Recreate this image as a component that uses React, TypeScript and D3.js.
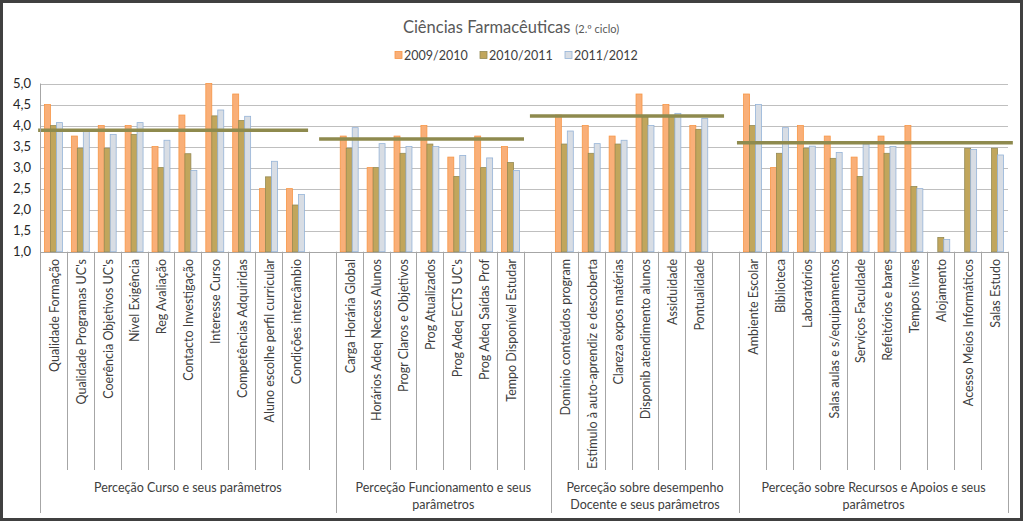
import React from "react";
import * as d3 from "d3";

const W = 1023;
const H = 521;

const seriesNames = ["2009/2010", "2010/2011", "2011/2012"];
const seriesFill = ["#F9AF78", "#C1A65C", "#D8DDE4"];
const seriesStroke = ["#F79646", "#948A54", "#95B3D7"];

const groupLabels = [
  ["Perceção Curso e seus parâmetros"],
  ["Perceção Funcionamento e seus", "parâmetros"],
  ["Perceção sobre desempenho", "Docente e seus parâmetros"],
  ["Perceção sobre Recursos e Apoios e seus", "parâmetros"],
];

const group1Cats = ["Qualidade Formação", "Qualidade Programas UC's", "Coerência Objetivos UC's", "Nível Exigência", "Reg Avaliação", "Contacto Investigação", "Interesse Curso", "Competências Adquiridas", "Aluno escolhe perfil curricular", "Condições intercâmbio"];
const group1S1 = [4.5, 3.75, 4.0, 4.0, 3.5, 4.25, 5.0, 4.75, 2.5, 2.5];
const group1S2 = [4.0, 3.46, 3.46, 3.79, 3.0, 3.33, 4.23, 4.12, 2.78, 2.11];
const group1S3 = [4.07, 3.88, 3.79, 4.07, 3.65, 2.93, 4.37, 4.22, 3.15, 2.36];

const group2Cats = ["Carga Horária Global", "Horários Adeq Necess Alunos", "Progr Claros e Objetivos", "Prog Atualizados", "Prog Adeq ECTS UC's", "Prog Adeq Saídas Prof", "Tempo Disponível Estudar"];
const group2S1 = [3.75, 3.0, 3.75, 4.0, 3.25, 3.75, 3.5];
const group2S2 = [3.46, 3.0, 3.34, 3.56, 2.79, 3.0, 3.12];
const group2S3 = [3.95, 3.57, 3.5, 3.5, 3.29, 3.23, 2.93];

const group3Cats = ["Domínio conteúdos program", "Estímulo à auto-aprendiz e descoberta", "Clareza expos matérias", "Disponib atendimento alunos", "Assiduidade", "Pontualidade"];
const group3S1 = [4.25, 4.0, 3.75, 4.75, 4.5, 4.0];
const group3S2 = [3.56, 3.34, 3.56, 4.21, 4.22, 3.91];
const group3S3 = [3.87, 3.57, 3.65, 4.0, 4.29, 4.17];

const group4Cats = ["Ambiente Escolar", "Biblioteca", "Laboratórios", "Salas aulas e s/equipamentos", "Serviços Faculdade", "Refeitórios e bares", "Tempos livres", "Alojamento", "Acesso Meios Informáticos", "Salas Estudo"];
const group4S1: (number | null)[] = [4.75, 3.0, 4.0, 3.75, 3.25, 3.75, 4.0, null, null, null];
const group4S2 = [4.0, 3.34, 3.46, 3.22, 2.79, 3.34, 2.55, 1.34, 3.46, 3.46];
const group4S3 = [4.5, 3.95, 3.51, 3.36, 3.56, 3.5, 2.5, 1.29, 3.43, 3.3];

// average reference lines per group (value, start/end in slot units)
const avgValues = [3.89, 3.68, 4.23, 3.59];
const avgStart = [-0.07, 10.38, 18.22, 25.92];
const avgEnd = [9.97, 18.0, 25.44, 36.18];

const yTicks = [1.0, 1.5, 2.0, 2.5, 3.0, 3.5, 4.0, 4.5, 5.0];

const groups = [
  { cats: group1Cats, vals: [group1S1, group1S2, group1S3], blank: true },
  { cats: group2Cats, vals: [group2S1, group2S2, group2S3], blank: true },
  { cats: group3Cats, vals: [group3S1, group3S2, group3S3], blank: true },
  { cats: group4Cats, vals: [group4S1, group4S2, group4S3], blank: false },
];

type Slot = { id: string; label: string; vals: (number | null)[]; group: number };

const slots: Slot[] = [];
const groupBounds: [number, number][] = [];
groups.forEach((g, gi) => {
  const start = slots.length;
  g.cats.forEach((c, i) => {
    slots.push({ id: `g${gi}c${i}`, label: c, vals: g.vals.map((s) => s[i] as number | null), group: gi });
  });
  if (g.blank) slots.push({ id: `g${gi}blank`, label: "", vals: [null, null, null], group: gi });
  groupBounds.push([start, slots.length]);
});

const FONT = "Lato, 'Open Sans', sans-serif";

export default function App() {
  const plotLeft = 40;
  const plotRight = 1008;
  const plotTop = 83.5;
  const plotBottom = 251.7;

  const x = d3.scaleBand<string>().domain(slots.map((s) => s.id)).range([plotLeft, plotRight]).paddingInner(0).paddingOuter(0);
  const xs = d3.scaleLinear().domain([0, slots.length]).range([plotLeft, plotRight]);
  const inner = d3.scaleBand<string>().domain(seriesNames).range([0, x.bandwidth()]).paddingInner(0).paddingOuter(0.75);
  const y = d3.scaleLinear().domain([1, 5]).range([plotBottom, plotTop]);

  const tickShortEnd = 470;
  const tickLongEnd = 513;

  return (
    <svg width={W} height={H} style={{ position: "fixed", left: 0, top: 0, background: "#fff" }} fontFamily={FONT}>
      <defs>
        <filter id="sh" x="-5%" y="-200%" width="110%" height="500%">
          <feGaussianBlur stdDeviation="1.2" />
        </filter>
      </defs>
      <rect x={0} y={0} width={W} height={H} fill="#fff" />
      {/* title */}
      <text x={511} y={33} textAnchor="middle" fill="#595959" fontSize={16.5}>
        Ciências Farmacêuticas<tspan fontSize={11} dx={5}>(2.º ciclo)</tspan>
      </text>
      {/* legend */}
      {seriesNames.map((s, i) => {
        const lx = 395 + i * 85;
        return (
          <g key={s}>
            <rect x={lx} y={51.5} width={7} height={7} fill={seriesFill[i]} stroke={seriesStroke[i]} strokeWidth={0.8} />
            <text x={lx + 9} y={59.5} fontSize={12.5} fill="#404040">{s}</text>
          </g>
        );
      })}
      {/* gridlines */}
      {yTicks.map((t) => (
        <g key={t}>
          <line x1={plotLeft} x2={plotRight} y1={Math.round(y(t)) + 0.5} y2={Math.round(y(t)) + 0.5} stroke={t === 1 ? "#A6A6A6" : "#BFBFBF"} strokeWidth={1} />
          <text x={31} y={y(t) + 4.5} textAnchor="end" fontSize={13} fill="#262626">{d3.format(".1f")(t).replace(".", ",")}</text>
        </g>
      ))}
      {/* bars */}
      {slots.map((s) => (
        <g key={s.id}>
          {s.vals.map((v, i) =>
            v == null ? null : (
              <rect
                key={i}
                x={(x(s.id) as number) + (inner(seriesNames[i]) as number)}
                y={y(v)}
                width={inner.bandwidth()}
                height={y(1) - y(v)}
                fill={seriesFill[i]}
                stroke={seriesStroke[i]}
                strokeWidth={0.8}
              />
            )
          )}
        </g>
      ))}
      {/* average lines */}
      {avgValues.map((v, i) => (
        <g key={i}>
          <line x1={xs(avgStart[i])} x2={xs(avgEnd[i])} y1={y(v) + 2.5} y2={y(v) + 2.5} stroke="#B5B08A" strokeWidth={3} opacity={0.6} filter="url(#sh)" />
          <line x1={xs(avgStart[i])} x2={xs(avgEnd[i])} y1={y(v)} y2={y(v)} stroke="#8E8A4E" strokeWidth={3.5} />
        </g>
      ))}
      {/* category axis lines */}
      {d3.range(slots.length + 1).map((k) => {
        const isLong = k === 0 || k === slots.length || groupBounds.some((b) => b[0] === k);
        const xx = Math.round(xs(k)) + 0.5;
        return (
          <line key={k} x1={xx} x2={xx} y1={isLong && k === 0 ? plotTop : plotBottom} y2={isLong ? tickLongEnd : tickShortEnd} stroke="#A6A6A6" strokeWidth={1} />
        );
      })}
      {/* category labels */}
      {slots.map((s) =>
        s.label ? (
          <text
            key={s.id}
            transform={`translate(${(x(s.id) as number) + x.bandwidth() / 2 + 1},${259}) rotate(-90)`}
            textAnchor="end"
            dy="0.35em"
            fontSize={12.5}
            fill="#404040"
          >
            {s.label}
          </text>
        ) : null
      )}
      {/* group labels */}
      {groupBounds.map((b, gi) => {
        const cx = (xs(b[0]) + xs(b[1])) / 2;
        return (
          <text key={gi} x={cx} y={492} textAnchor="middle" fontSize={12.5} fill="#404040">
            {groupLabels[gi].map((ln, li) => (
              <tspan key={li} x={cx} dy={li === 0 ? 0 : 17}>{ln}</tspan>
            ))}
          </text>
        );
      })}
      {/* outer frame */}
      <rect x={1.5} y={1.5} width={W - 3} height={H - 3} fill="none" stroke="#404040" strokeWidth={3} />
    </svg>
  );
}
